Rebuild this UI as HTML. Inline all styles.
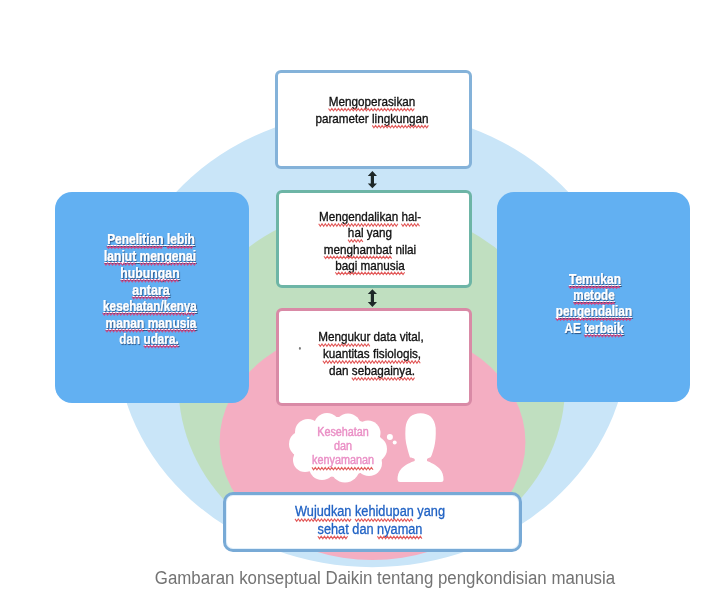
<!DOCTYPE html>
<html><head><meta charset="utf-8">
<style>
html,body{margin:0;padding:0;}
body{width:723px;height:594px;overflow:hidden;background:#fff;position:relative;font-family:"Liberation Sans",sans-serif;}
.abs{position:absolute;}
#wrap{position:absolute;left:0;top:0;width:723px;height:594px;filter:blur(0.35px);}
svg.bg{position:absolute;left:0;top:0;}
.box{position:absolute;box-sizing:border-box;background:#fff;border:3px solid #84b2d8;border-radius:6px;}
.side{position:absolute;background:#62b0f2;border-radius:17px;}
.ln{position:absolute;white-space:nowrap;text-align:center;transform-origin:50% 50%;}
.dk{color:#111;}
.wt{color:#fff;font-weight:bold;-webkit-text-stroke:0.2px #fff;text-shadow:1px 1px 1px rgba(30,50,90,.75);}
.bl{color:#2062c4;-webkit-text-stroke:0.3px #2062c4;}
.pk{color:#ea90c6;-webkit-text-stroke:0.45px #ea90c6;}
.cap{color:#737373;}
.sq,.sq2{}
.sq{--sc:#dc4a55;}
.sq2{--sc:#c8467a;}
.ul{text-decoration:underline #fff;text-decoration-thickness:1px;text-underline-offset:0.5px;text-decoration-skip-ink:none;}

.dk{-webkit-text-stroke:0.35px #111;}
</style></head><body><div id="wrap">
<svg class="bg" width="723" height="594" viewBox="0 0 723 594">
  <ellipse cx="372.24" cy="338.71" rx="255.9" ry="228.42" fill="#c9e5f8"/>
  <defs><clipPath id="gc"><rect x="0" y="0" width="723" height="551"/></clipPath></defs>
  <ellipse cx="371.77" cy="384.9" rx="193.34" ry="178.5" fill="#c0dfc0" clip-path="url(#gc)"/>
  <ellipse cx="372.5" cy="442.01" rx="152.97" ry="117.97" fill="#f4aec2"/>
</svg>

<div class="side" style="left:54.7px;top:191.7px;width:194.3px;height:210.9px;"></div>
<div class="side" style="left:497px;top:192px;width:193.3px;height:210.4px;"></div>

<div class="box" style="left:275.1px;top:70.4px;width:197.1px;height:98.4px;border-color:#84b2d9;"></div>
<div class="box" style="left:276.2px;top:189.5px;width:196px;height:98.8px;border-color:#6db5a6;"></div>
<div class="box" style="left:276.2px;top:308px;width:196px;height:98px;border-color:#d98aa6;"></div>
<div class="box" style="left:222.8px;top:492px;width:299.5px;height:59.5px;border-color:#78aad6;border-radius:10px;box-shadow:inset 0 0 0 1px #e2f0fb;"></div>

<svg class="abs" style="left:0;top:0" width="723" height="594">
  <path d="M372.4 171 L377 176 L374 176 L374 183.5 L377 183.5 L372.4 188.3 L367.8 183.5 L370.8 183.5 L370.8 176 L367.8 176 Z" fill="#1e2828"/>
  <path d="M372.4 289.2 L377 294 L374 294 L374 302 L377 302 L372.4 306.9 L367.8 302 L370.8 302 L370.8 294 L367.8 294 Z" fill="#1e2828"/>
  <ellipse cx="299.9" cy="348.4" rx="1" ry="1.4" fill="#7a7a7a"/>
  <!-- cloud -->
  <g fill="#fff">
    <ellipse cx="338" cy="447" rx="45" ry="30"/>
    <circle cx="308" cy="432" r="13"/>
    <circle cx="327" cy="426" r="13"/>
    <circle cx="348" cy="426.5" r="13"/>
    <circle cx="368" cy="433" r="12.5"/>
    <circle cx="374" cy="449" r="13"/>
    <circle cx="369" cy="463" r="13"/>
    <circle cx="345" cy="468" r="14.5"/>
    <circle cx="322" cy="467" r="13"/>
    <circle cx="305" cy="460" r="12"/>
    <circle cx="302" cy="444" r="13"/>
    <circle cx="389.9" cy="436.9" r="3"/>
    <circle cx="394.7" cy="442.5" r="2"/>
  </g>
  <!-- person -->
  <path fill="#fff" d="M420.6 413.3 C412 413.3 406.5 418 405.5 428 C405 436 405.5 442 407 447 C408 451 409 455 410 457.5 C411.5 457.5 413 458 414.7 459 L414.7 461 C411 462 405 465 401.5 468.5 C398.5 471.5 397.4 476 397.5 479.5 Q397.6 482 400 482 L441 482 Q443.5 482 443.5 479.5 C443.6 476 442.5 471.5 439.5 468.5 C436 465 430 462 427 461 L427 459 C428.5 458 430 457.5 430.8 457 C432 455 433 451 434.2 447 C435.5 442 436 436 435.7 428 C434.7 418 429 413.3 420.6 413.3 Z"/>
</svg>
<div class="ln dk" style="left:371.8px;top:94.87px;font-size:13.5px;line-height:13.5px;transform:translateX(-50%) scaleX(0.867);"><span class="sq">Mengoperasikan</span></div>
<div class="ln dk" style="left:372.3px;top:111.77px;font-size:13.5px;line-height:13.5px;transform:translateX(-50%) scaleX(0.867);">parameter <span class="sq">lingkungan</span></div>
<div class="ln dk" style="left:369.8px;top:210.17px;font-size:13.5px;line-height:13.5px;transform:translateX(-50%) scaleX(0.867);"><span class="sq">Mengendalikan</span> <span class="sq">hal-</span></div>
<div class="ln dk" style="left:370.2px;top:225.97px;font-size:13.5px;line-height:13.5px;transform:translateX(-50%) scaleX(0.867);"><span class="sq">hal</span> yang</div>
<div class="ln dk" style="left:370.2px;top:242.57px;font-size:13.5px;line-height:13.5px;transform:translateX(-50%) scaleX(0.867);"><span class="sq">menghambat</span> nilai</div>
<div class="ln dk" style="left:370.2px;top:258.57px;font-size:13.5px;line-height:13.5px;transform:translateX(-50%) scaleX(0.867);"><span class="sq">bagi manusia</span></div>
<div class="ln dk" style="left:371.4px;top:330.37px;font-size:13.5px;line-height:13.5px;transform:translateX(-50%) scaleX(0.867);"><span class="sq">Mengukur</span> data vital,</div>
<div class="ln dk" style="left:372.0px;top:347.17px;font-size:13.5px;line-height:13.5px;transform:translateX(-50%) scaleX(0.867);"><span class="sq">kuantitas fisiologis,</span></div>
<div class="ln dk" style="left:372.0px;top:363.97px;font-size:13.5px;line-height:13.5px;transform:translateX(-50%) scaleX(0.867);">dan <span class="sq">sebagainya.</span></div>
<div class="ln wt" style="left:150.6px;top:232.43px;font-size:14.5px;line-height:14.5px;transform:translateX(-50%) scaleX(0.82485);"><span class="ul"><span class="sq2">Penelitian</span> <span class="sq2">lebih</span></span></div>
<div class="ln wt" style="left:150.3px;top:249.23px;font-size:14.5px;line-height:14.5px;transform:translateX(-50%) scaleX(0.83331);"><span class="ul"><span class="sq2">lanjut</span> <span class="sq2">mengenai</span></span></div>
<div class="ln wt" style="left:150.3px;top:266.03px;font-size:14.5px;line-height:14.5px;transform:translateX(-50%) scaleX(0.846);"><span class="ul"><span class="sq2">hubungan</span></span></div>
<div class="ln wt" style="left:150.8px;top:282.93px;font-size:14.5px;line-height:14.5px;transform:translateX(-50%) scaleX(0.86292);"><span class="ul"><span class="sq2">antara</span></span></div>
<div class="ln wt" style="left:149.5px;top:299.23px;font-size:14.5px;line-height:14.5px;transform:translateX(-50%) scaleX(0.8079299999999999);"><span class="ul"><span class="sq2">kesehatan/kenya</span></span></div>
<div class="ln wt" style="left:150.8px;top:316.03px;font-size:14.5px;line-height:14.5px;transform:translateX(-50%) scaleX(0.8290799999999999);"><span class="ul"><span class="sq2">manan</span> <span class="sq2">manusia</span></span></div>
<div class="ln wt" style="left:149.3px;top:331.63px;font-size:14.5px;line-height:14.5px;transform:translateX(-50%) scaleX(0.81216);">dan <span class="ul"><span class="sq2">udara.</span></span></div>
<div class="ln wt" style="left:594.8px;top:272.33px;font-size:14.5px;line-height:14.5px;transform:translateX(-50%) scaleX(0.83331);"><span class="ul"><span class="sq2">Temukan</span></span></div>
<div class="ln wt" style="left:594.2px;top:288.43px;font-size:14.5px;line-height:14.5px;transform:translateX(-50%) scaleX(0.8037);"><span class="ul"><span class="sq2">metode</span></span></div>
<div class="ln wt" style="left:593.8px;top:304.43px;font-size:14.5px;line-height:14.5px;transform:translateX(-50%) scaleX(0.81639);"><span class="ul"><span class="sq2">pengendalian</span></span></div>
<div class="ln wt" style="left:593.8px;top:320.93px;font-size:14.5px;line-height:14.5px;transform:translateX(-50%) scaleX(0.825696);">AE <span class="ul"><span class="sq2">terbaik</span></span></div>
<div class="ln bl" style="left:370.0px;top:504.35px;font-size:14px;line-height:14px;transform:translateX(-50%) scaleX(0.91);"><span class="sq">Wujudkan</span> <span class="sq">kehidupan</span> yang</div>
<div class="ln bl" style="left:370.3px;top:521.75px;font-size:14px;line-height:14px;transform:translateX(-50%) scaleX(0.91);"><span class="sq">sehat</span> dan <span class="sq">nyaman</span></div>
<div class="ln pk" style="left:342.9px;top:425.94px;font-size:12px;line-height:12px;transform:translateX(-50%) scaleX(0.9);">Kesehatan</div>
<div class="ln pk" style="left:343.3px;top:440.44px;font-size:12px;line-height:12px;transform:translateX(-50%) scaleX(0.9);">dan</div>
<div class="ln pk" style="left:342.9px;top:454.44px;font-size:12px;line-height:12px;transform:translateX(-50%) scaleX(0.9);"><span class="sq">kenyamanan</span></div>
<div class="ln cap" style="left:385.0px;top:568.76px;font-size:18px;line-height:18px;transform:translateX(-50%) scaleX(0.937);">Gambaran konseptual Daikin tentang pengkondisian manusia</div>

<svg class="abs" style="left:0;top:0;pointer-events:none" width="723" height="594">
<polyline points="328.52,108.50 330.17,110.90 331.82,108.50 333.47,110.90 335.12,108.50 336.77,110.90 338.42,108.50 340.07,110.90 341.72,108.50 343.37,110.90 345.02,108.50 346.67,110.90 348.32,108.50 349.97,110.90 351.62,108.50 353.27,110.90 354.92,108.50 356.57,110.90 358.22,108.50 359.87,110.90 361.52,108.50 363.17,110.90 364.82,108.50 366.47,110.90 368.12,108.50 369.77,110.90 371.42,108.50 373.07,110.90 374.72,108.50 376.37,110.90 378.02,108.50 379.67,110.90 381.32,108.50 382.97,110.90 384.62,108.50 386.27,110.90 387.92,108.50 389.57,110.90 391.22,108.50 392.87,110.90 394.52,108.50 396.17,110.90 397.82,108.50 399.47,110.90 401.12,108.50 402.77,110.90 404.42,108.50 406.07,110.90 407.72,108.50 409.37,110.90 411.02,108.50 412.67,110.90 414.32,108.50" fill="none" stroke="#e25a5a" stroke-width="1.1"/>
<polyline points="372.28,125.40 373.93,127.80 375.58,125.40 377.23,127.80 378.88,125.40 380.53,127.80 382.18,125.40 383.83,127.80 385.48,125.40 387.13,127.80 388.78,125.40 390.43,127.80 392.08,125.40 393.73,127.80 395.38,125.40 397.03,127.80 398.68,125.40 400.33,127.80 401.98,125.40 403.63,127.80 405.28,125.40 406.93,127.80 408.58,125.40 410.23,127.80 411.88,125.40 413.53,127.80 415.18,125.40 416.83,127.80 418.48,125.40 420.13,127.80 421.78,125.40 423.43,127.80 425.08,125.40 426.73,127.80 428.38,125.40" fill="none" stroke="#e25a5a" stroke-width="1.1"/>
<polyline points="318.70,223.79 320.35,226.19 322.00,223.79 323.65,226.19 325.30,223.79 326.95,226.19 328.60,223.79 330.25,226.19 331.90,223.79 333.55,226.19 335.20,223.79 336.85,226.19 338.50,223.79 340.15,226.19 341.80,223.79 343.45,226.19 345.10,223.79 346.75,226.19 348.40,223.79 350.05,226.19 351.70,223.79 353.35,226.19 355.00,223.79 356.65,226.19 358.30,223.79 359.95,226.19 361.60,223.79 363.25,226.19 364.90,223.79 366.55,226.19 368.20,223.79 369.85,226.19 371.50,223.79 373.15,226.19 374.80,223.79 376.45,226.19 378.10,223.79 379.75,226.19 381.40,223.79 383.05,226.19 384.70,223.79 386.35,226.19 388.00,223.79 389.65,226.19 391.30,223.79 392.95,226.19 394.60,223.79 396.25,226.19 397.90,223.79" fill="none" stroke="#e25a5a" stroke-width="1.1"/>
<polyline points="401.37,223.79 403.02,226.19 404.67,223.79 406.32,226.19 407.97,223.79 409.62,226.19 411.27,223.79 412.92,226.19 414.57,223.79 416.22,226.19 417.87,223.79 419.52,226.19" fill="none" stroke="#e25a5a" stroke-width="1.1"/>
<polyline points="348.06,239.61 349.71,242.01 351.36,239.61 353.01,242.01 354.66,239.61 356.31,242.01 357.96,239.61 359.61,242.01 361.26,239.61 362.91,242.01" fill="none" stroke="#e25a5a" stroke-width="1.1"/>
<polyline points="323.99,256.20 325.64,258.60 327.29,256.20 328.94,258.60 330.59,256.20 332.24,258.60 333.89,256.20 335.54,258.60 337.19,256.20 338.84,258.60 340.49,256.20 342.14,258.60 343.79,256.20 345.44,258.60 347.09,256.20 348.74,258.60 350.39,256.20 352.04,258.60 353.69,256.20 355.34,258.60 356.99,256.20 358.64,258.60 360.29,256.20 361.94,258.60 363.59,256.20 365.24,258.60 366.89,256.20 368.54,258.60 370.19,256.20 371.84,258.60 373.49,256.20 375.14,258.60 376.79,256.20 378.44,258.60 380.09,256.20 381.74,258.60 383.39,256.20 385.04,258.60 386.69,256.20 388.34,258.60 389.99,256.20 391.64,258.60" fill="none" stroke="#e25a5a" stroke-width="1.1"/>
<polyline points="335.37,272.20 337.02,274.60 338.67,272.20 340.32,274.60 341.97,272.20 343.62,274.60 345.27,272.20 346.92,274.60 348.57,272.20 350.22,274.60 351.87,272.20 353.52,274.60 355.17,272.20 356.82,274.60 358.47,272.20 360.12,274.60 361.77,272.20 363.42,274.60 365.07,272.20 366.72,274.60 368.37,272.20 370.02,274.60 371.67,272.20 373.32,274.60 374.97,272.20 376.62,274.60 378.27,272.20 379.92,274.60 381.57,272.20 383.22,274.60 384.87,272.20 386.52,274.60 388.17,272.20 389.82,274.60 391.47,272.20 393.12,274.60 394.77,272.20 396.42,274.60 398.07,272.20 399.72,274.60 401.37,272.20 403.02,274.60 404.67,272.20" fill="none" stroke="#e25a5a" stroke-width="1.1"/>
<polyline points="318.68,344.00 320.33,346.40 321.98,344.00 323.63,346.40 325.28,344.00 326.93,346.40 328.58,344.00 330.23,346.40 331.88,344.00 333.53,346.40 335.18,344.00 336.83,346.40 338.48,344.00 340.13,346.40 341.78,344.00 343.43,346.40 345.08,344.00 346.73,346.40 348.38,344.00 350.03,346.40 351.68,344.00 353.33,346.40 354.98,344.00 356.63,346.40 358.28,344.00 359.93,346.40 361.58,344.00 363.23,346.40 364.88,344.00 366.53,346.40 368.18,344.00 369.83,346.40" fill="none" stroke="#e25a5a" stroke-width="1.1"/>
<polyline points="322.88,360.79 324.53,363.19 326.18,360.79 327.83,363.19 329.48,360.79 331.13,363.19 332.78,360.79 334.43,363.19 336.08,360.79 337.73,363.19 339.38,360.79 341.03,363.19 342.68,360.79 344.33,363.19 345.98,360.79 347.63,363.19 349.28,360.79 350.93,363.19 352.58,360.79 354.23,363.19 355.88,360.79 357.53,363.19 359.18,360.79 360.83,363.19 362.48,360.79 364.13,363.19 365.78,360.79 367.43,363.19 369.08,360.79 370.73,363.19 372.38,360.79 374.03,363.19 375.68,360.79 377.33,363.19 378.98,360.79 380.63,363.19 382.28,360.79 383.93,363.19 385.58,360.79 387.23,363.19 388.88,360.79 390.53,363.19 392.18,360.79 393.83,363.19 395.48,360.79 397.13,363.19 398.78,360.79 400.43,363.19 402.08,360.79 403.73,363.19 405.38,360.79 407.03,363.19 408.68,360.79 410.33,363.19 411.98,360.79 413.63,363.19 415.28,360.79 416.93,363.19 418.58,360.79 420.23,363.19" fill="none" stroke="#e25a5a" stroke-width="1.1"/>
<polyline points="351.83,377.61 353.48,380.01 355.13,377.61 356.78,380.01 358.43,377.61 360.08,380.01 361.73,377.61 363.38,380.01 365.03,377.61 366.68,380.01 368.33,377.61 369.98,380.01 371.63,377.61 373.28,380.01 374.93,377.61 376.58,380.01 378.23,377.61 379.88,380.01 381.53,377.61 383.18,380.01 384.83,377.61 386.48,380.01 388.13,377.61 389.78,380.01 391.43,377.61 393.08,380.01 394.73,377.61 396.38,380.01 398.03,377.61 399.68,380.01 401.33,377.61 402.98,380.01 404.63,377.61 406.28,380.01 407.93,377.61 409.58,380.01 411.23,377.61 412.88,380.01 414.53,377.61" fill="none" stroke="#e25a5a" stroke-width="1.1"/>
<polyline points="106.72,246.15 108.37,248.35 110.02,246.15 111.67,248.35 113.32,246.15 114.97,248.35 116.62,246.15 118.27,248.35 119.92,246.15 121.57,248.35 123.22,246.15 124.87,248.35 126.52,246.15 128.17,248.35 129.82,246.15 131.47,248.35 133.12,246.15 134.77,248.35 136.42,246.15 138.07,248.35 139.72,246.15 141.37,248.35 143.02,246.15 144.67,248.35 146.32,246.15 147.97,248.35 149.62,246.15 151.27,248.35 152.92,246.15 154.57,248.35 156.22,246.15 157.87,248.35 159.52,246.15 161.17,248.35 162.82,246.15" fill="none" stroke="#cc4a86" stroke-width="1.1"/>
<polyline points="166.55,246.15 168.20,248.35 169.85,246.15 171.50,248.35 173.15,246.15 174.80,248.35 176.45,246.15 178.10,248.35 179.75,246.15 181.40,248.35 183.05,246.15 184.70,248.35 186.35,246.15 188.00,248.35 189.65,246.15 191.30,248.35 192.95,246.15" fill="none" stroke="#cc4a86" stroke-width="1.1"/>
<polyline points="104.30,262.94 105.95,265.14 107.60,262.94 109.25,265.14 110.90,262.94 112.55,265.14 114.20,262.94 115.85,265.14 117.50,262.94 119.15,265.14 120.80,262.94 122.45,265.14 124.10,262.94 125.75,265.14 127.40,262.94 129.05,265.14 130.70,262.94 132.35,265.14 134.00,262.94 135.65,265.14" fill="none" stroke="#cc4a86" stroke-width="1.1"/>
<polyline points="139.89,262.94 141.54,265.14 143.19,262.94 144.84,265.14 146.49,262.94 148.14,265.14 149.79,262.94 151.44,265.14 153.09,262.94 154.74,265.14 156.39,262.94 158.04,265.14 159.69,262.94 161.34,265.14 162.99,262.94 164.64,265.14 166.29,262.94 167.94,265.14 169.59,262.94 171.24,265.14 172.89,262.94 174.54,265.14 176.19,262.94 177.84,265.14 179.49,262.94 181.14,265.14 182.79,262.94 184.44,265.14 186.09,262.94 187.74,265.14 189.39,262.94 191.04,265.14 192.69,262.94 194.34,265.14 195.99,262.94" fill="none" stroke="#cc4a86" stroke-width="1.1"/>
<polyline points="120.65,279.74 122.30,281.94 123.95,279.74 125.60,281.94 127.25,279.74 128.90,281.94 130.55,279.74 132.20,281.94 133.85,279.74 135.50,281.94 137.15,279.74 138.80,281.94 140.45,279.74 142.10,281.94 143.75,279.74 145.40,281.94 147.05,279.74 148.70,281.94 150.35,279.74 152.00,281.94 153.65,279.74 155.30,281.94 156.95,279.74 158.60,281.94 160.25,279.74 161.90,281.94 163.55,279.74 165.20,281.94 166.85,279.74 168.50,281.94 170.15,279.74 171.80,281.94 173.45,279.74 175.10,281.94 176.75,279.74 178.40,281.94" fill="none" stroke="#cc4a86" stroke-width="1.1"/>
<polyline points="132.01,296.65 133.66,298.85 135.31,296.65 136.96,298.85 138.61,296.65 140.26,298.85 141.91,296.65 143.56,298.85 145.21,296.65 146.86,298.85 148.51,296.65 150.16,298.85 151.81,296.65 153.46,298.85 155.11,296.65 156.76,298.85 158.41,296.65 160.06,298.85 161.71,296.65 163.36,298.85 165.01,296.65 166.66,298.85 168.31,296.65" fill="none" stroke="#cc4a86" stroke-width="1.1"/>
<polyline points="102.61,312.94 104.26,315.14 105.91,312.94 107.56,315.14 109.21,312.94 110.86,315.14 112.51,312.94 114.16,315.14 115.81,312.94 117.46,315.14 119.11,312.94 120.76,315.14 122.41,312.94 124.06,315.14 125.71,312.94 127.36,315.14 129.01,312.94 130.66,315.14 132.31,312.94 133.96,315.14 135.61,312.94 137.26,315.14 138.91,312.94 140.56,315.14 142.21,312.94 143.86,315.14 145.51,312.94 147.16,315.14 148.81,312.94 150.46,315.14 152.11,312.94 153.76,315.14 155.41,312.94 157.06,315.14 158.71,312.94 160.36,315.14 162.01,312.94 163.66,315.14 165.31,312.94 166.96,315.14 168.61,312.94 170.26,315.14 171.91,312.94 173.56,315.14 175.21,312.94 176.86,315.14 178.51,312.94 180.16,315.14 181.81,312.94 183.46,315.14 185.11,312.94 186.76,315.14 188.41,312.94 190.06,315.14 191.71,312.94 193.36,315.14 195.01,312.94" fill="none" stroke="#cc4a86" stroke-width="1.1"/>
<polyline points="105.35,329.74 107.00,331.94 108.65,329.74 110.30,331.94 111.95,329.74 113.60,331.94 115.25,329.74 116.90,331.94 118.55,329.74 120.20,331.94 121.85,329.74 123.50,331.94 125.15,329.74 126.80,331.94 128.45,329.74 130.10,331.94 131.75,329.74 133.40,331.94 135.05,329.74 136.70,331.94 138.35,329.74 140.00,331.94 141.65,329.74 143.30,331.94" fill="none" stroke="#cc4a86" stroke-width="1.1"/>
<polyline points="147.45,329.74 149.10,331.94 150.75,329.74 152.40,331.94 154.05,329.74 155.70,331.94 157.35,329.74 159.00,331.94 160.65,329.74 162.30,331.94 163.95,329.74 165.60,331.94 167.25,329.74 168.90,331.94 170.55,329.74 172.20,331.94 173.85,329.74 175.50,331.94 177.15,329.74 178.80,331.94 180.45,329.74 182.10,331.94 183.75,329.74 185.40,331.94 187.05,329.74 188.70,331.94 190.35,329.74 192.00,331.94 193.65,329.74 195.30,331.94" fill="none" stroke="#cc4a86" stroke-width="1.1"/>
<polyline points="143.73,345.35 145.38,347.55 147.03,345.35 148.68,347.55 150.33,345.35 151.98,347.55 153.63,345.35 155.28,347.55 156.93,345.35 158.58,347.55 160.23,345.35 161.88,347.55 163.53,345.35 165.18,347.55 166.83,345.35 168.48,347.55 170.13,345.35 171.78,347.55 173.43,345.35 175.08,347.55 176.73,345.35 178.38,347.55" fill="none" stroke="#cc4a86" stroke-width="1.1"/>
<polyline points="568.72,286.05 570.37,288.25 572.02,286.05 573.67,288.25 575.32,286.05 576.97,288.25 578.62,286.05 580.27,288.25 581.92,286.05 583.57,288.25 585.22,286.05 586.87,288.25 588.52,286.05 590.17,288.25 591.82,286.05 593.47,288.25 595.12,286.05 596.77,288.25 598.42,286.05 600.07,288.25 601.72,286.05 603.37,288.25 605.02,286.05 606.67,288.25 608.32,286.05 609.97,288.25 611.62,286.05 613.27,288.25 614.92,286.05 616.57,288.25 618.22,286.05 619.87,288.25" fill="none" stroke="#cc4a86" stroke-width="1.1"/>
<polyline points="573.46,302.15 575.11,304.35 576.76,302.15 578.41,304.35 580.06,302.15 581.71,304.35 583.36,302.15 585.01,304.35 586.66,302.15 588.31,304.35 589.96,302.15 591.61,304.35 593.26,302.15 594.91,304.35 596.56,302.15 598.21,304.35 599.86,302.15 601.51,304.35 603.16,302.15 604.81,304.35 606.46,302.15 608.11,304.35 609.76,302.15 611.41,304.35 613.06,302.15 614.71,304.35" fill="none" stroke="#cc4a86" stroke-width="1.1"/>
<polyline points="555.64,318.15 557.29,320.35 558.94,318.15 560.59,320.35 562.24,318.15 563.89,320.35 565.54,318.15 567.19,320.35 568.84,318.15 570.49,320.35 572.14,318.15 573.79,320.35 575.44,318.15 577.09,320.35 578.74,318.15 580.39,320.35 582.04,318.15 583.69,320.35 585.34,318.15 586.99,320.35 588.64,318.15 590.29,320.35 591.94,318.15 593.59,320.35 595.24,318.15 596.89,320.35 598.54,318.15 600.19,320.35 601.84,318.15 603.49,320.35 605.14,318.15 606.79,320.35 608.44,318.15 610.09,320.35 611.74,318.15 613.39,320.35 615.04,318.15 616.69,320.35 618.34,318.15 619.99,320.35 621.64,318.15 623.29,320.35 624.94,318.15 626.59,320.35 628.24,318.15 629.89,320.35 631.54,318.15" fill="none" stroke="#cc4a86" stroke-width="1.1"/>
<polyline points="584.14,334.65 585.79,336.85 587.44,334.65 589.09,336.85 590.74,334.65 592.39,336.85 594.04,334.65 595.69,336.85 597.34,334.65 598.99,336.85 600.64,334.65 602.29,336.85 603.94,334.65 605.59,336.85 607.24,334.65 608.89,336.85 610.54,334.65 612.19,336.85 613.84,334.65 615.49,336.85 617.14,334.65 618.79,336.85 620.44,334.65 622.09,336.85" fill="none" stroke="#cc4a86" stroke-width="1.1"/>
<polyline points="295.02,518.88 296.67,521.28 298.32,518.88 299.97,521.28 301.62,518.88 303.27,521.28 304.92,518.88 306.57,521.28 308.22,518.88 309.87,521.28 311.52,518.88 313.17,521.28 314.82,518.88 316.47,521.28 318.12,518.88 319.77,521.28 321.42,518.88 323.07,521.28 324.72,518.88 326.37,521.28 328.02,518.88 329.67,521.28 331.32,518.88 332.97,521.28 334.62,518.88 336.27,521.28 337.92,518.88 339.57,521.28 341.22,518.88 342.87,521.28 344.52,518.88 346.17,521.28 347.82,518.88 349.47,521.28 351.12,518.88" fill="none" stroke="#e25a5a" stroke-width="1.1"/>
<polyline points="355.00,518.88 356.65,521.28 358.30,518.88 359.95,521.28 361.60,518.88 363.25,521.28 364.90,518.88 366.55,521.28 368.20,518.88 369.85,521.28 371.50,518.88 373.15,521.28 374.80,518.88 376.45,521.28 378.10,518.88 379.75,521.28 381.40,518.88 383.05,521.28 384.70,518.88 386.35,521.28 388.00,518.88 389.65,521.28 391.30,518.88 392.95,521.28 394.60,518.88 396.25,521.28 397.90,518.88 399.55,521.28 401.20,518.88 402.85,521.28 404.50,518.88 406.15,521.28 407.80,518.88 409.45,521.28 411.10,518.88 412.75,521.28" fill="none" stroke="#e25a5a" stroke-width="1.1"/>
<polyline points="317.88,536.28 319.53,538.68 321.18,536.28 322.83,538.68 324.48,536.28 326.13,538.68 327.78,536.28 329.43,538.68 331.08,536.28 332.73,538.68 334.38,536.28 336.03,538.68 337.68,536.28 339.33,538.68 340.98,536.28 342.63,538.68 344.28,536.28 345.93,538.68 347.58,536.28" fill="none" stroke="#e25a5a" stroke-width="1.1"/>
<polyline points="377.38,536.28 379.03,538.68 380.68,536.28 382.33,538.68 383.98,536.28 385.63,538.68 387.28,536.28 388.93,538.68 390.58,536.28 392.23,538.68 393.88,536.28 395.53,538.68 397.18,536.28 398.83,538.68 400.48,536.28 402.13,538.68 403.78,536.28 405.43,538.68 407.08,536.28 408.73,538.68 410.38,536.28 412.03,538.68 413.68,536.28 415.33,538.68 416.98,536.28 418.63,538.68 420.28,536.28 421.93,538.68" fill="none" stroke="#e25a5a" stroke-width="1.1"/>
<polyline points="311.97,467.39 313.62,469.79 315.27,467.39 316.92,469.79 318.57,467.39 320.22,469.79 321.87,467.39 323.52,469.79 325.17,467.39 326.82,469.79 328.47,467.39 330.12,469.79 331.77,467.39 333.42,469.79 335.07,467.39 336.72,469.79 338.37,467.39 340.02,469.79 341.67,467.39 343.32,469.79 344.97,467.39 346.62,469.79 348.27,467.39 349.92,469.79 351.57,467.39 353.22,469.79 354.87,467.39 356.52,469.79 358.17,467.39 359.82,469.79 361.47,467.39 363.12,469.79 364.77,467.39 366.42,469.79 368.07,467.39 369.72,469.79 371.37,467.39 373.02,469.79" fill="none" stroke="#e25a5a" stroke-width="1.1"/>
</svg>
</div></body></html>
